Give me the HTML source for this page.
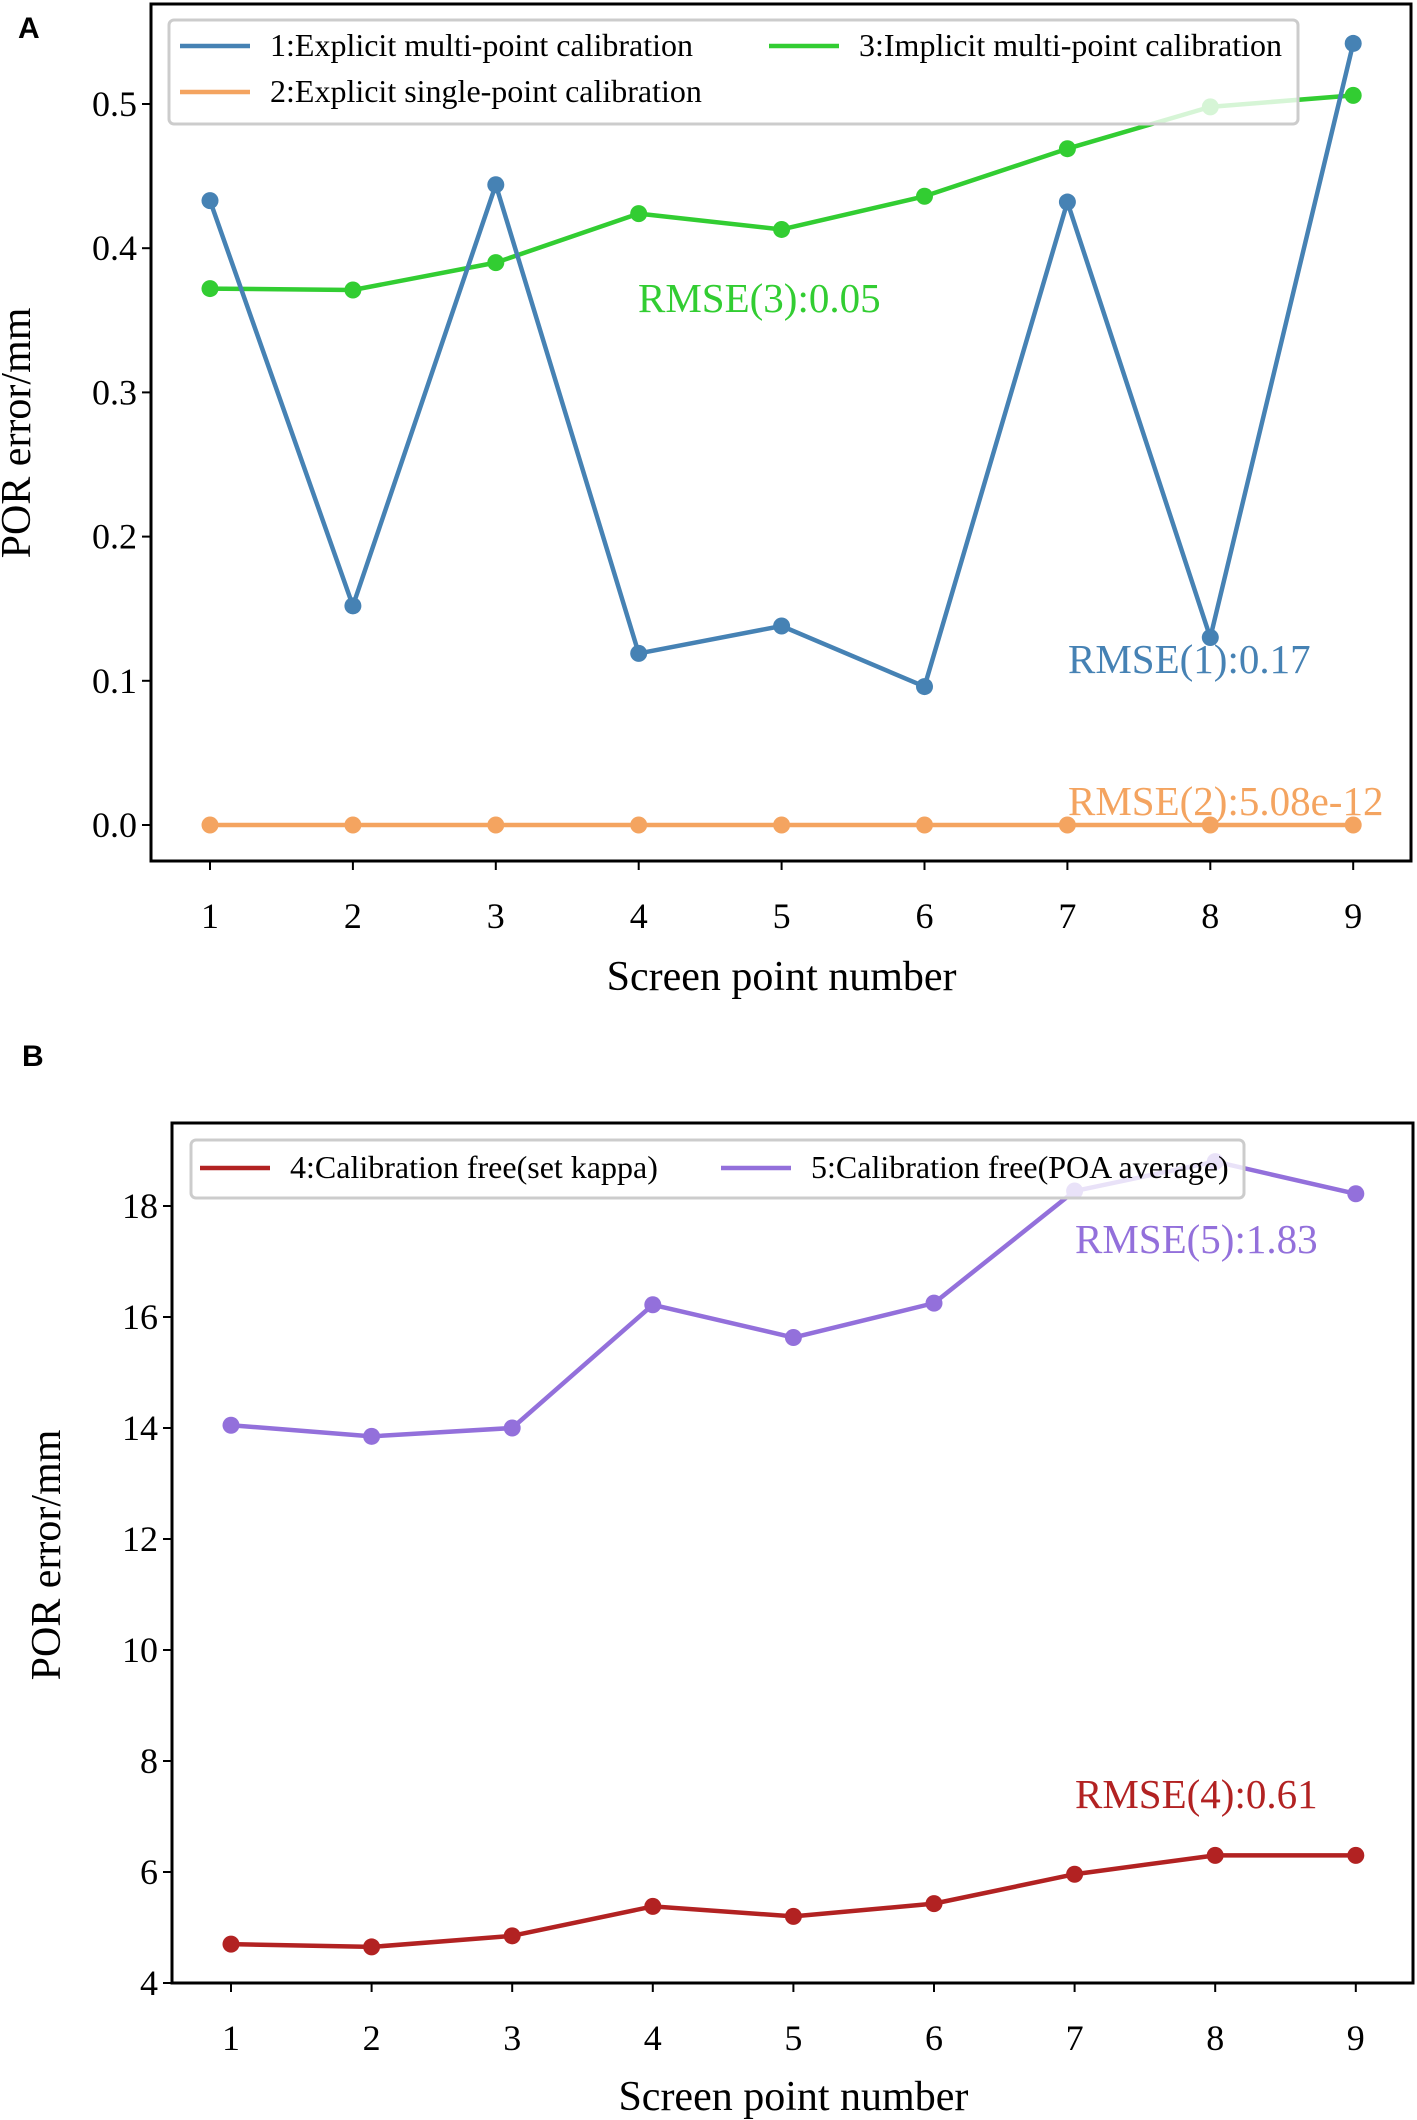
<!DOCTYPE html>
<html><head><meta charset="utf-8"><style>
html,body{margin:0;padding:0;background:#fff}
svg{display:block}
text{font-family:"Liberation Serif",serif}
</style></head><body>
<svg id="fig" width="1417" height="2120" viewBox="0 0 1417 2120" xmlns="http://www.w3.org/2000/svg"></svg>
<script>
const categories=[1,2,3,4,5,6,7,8,9];
const s1=[0.433,0.152,0.444,0.119,0.138,0.096,0.432,0.130,0.542];
const s2=[0,0,0,0,0,0,0,0,0];
const s3=[0.372,0.371,0.390,0.424,0.413,0.436,0.469,0.498,0.506];
const s4=[4.70,4.65,4.85,5.38,5.20,5.43,5.96,6.30,6.30];
const s5=[14.05,13.85,14.00,16.22,15.63,16.25,18.27,18.80,18.22];
const yTicksA=[0.0,0.1,0.2,0.3,0.4,0.5];
const yTicksB=[4,6,8,10,12,14,16,18];
const NS="http://www.w3.org/2000/svg";
const svg=document.getElementById('fig');
function mk(tag,attrs,parent,txt){const e=document.createElementNS(NS,tag);for(const k in attrs)e.setAttribute(k,attrs[k]);if(txt!==undefined)e.textContent=txt;(parent||svg).appendChild(e);return e;}

function panel(cfg){
  const g=mk('g',{});
  
  
  const X=v=>cfg.x0+(v-1)*cfg.xs;
  const Y=v=>cfg.y0-(v-cfg.yb)*cfg.ys;
  cfg.yt.forEach(t=>{
    const l=mk('line',{x1:cfg.L-9,x2:cfg.L,y1:Y(t),y2:Y(t),stroke:'#000','stroke-width':2},g);
    
    
    const tx=mk('text',{x:cfg.L-14,y:Y(t)+12,'text-anchor':'end','font-size':36},g,cfg.fmt(t));
    
    
  });
  categories.forEach(c=>{
    const l=mk('line',{x1:X(c),x2:X(c),y1:cfg.B,y2:cfg.B+9,stroke:'#000','stroke-width':2},g);
    
    
    const tx=mk('text',{x:X(c),y:cfg.xly,'text-anchor':'middle','font-size':36},g,String(c));
    
    
  });
  cfg.series.forEach(s=>{
    const sg=mk('g',{},g);
    
    
    mk('polyline',{points:s.data.map((v,i)=>X(categories[i])+','+Y(v)).join(' '),fill:'none',stroke:s.color,'stroke-width':4.5,'stroke-linejoin':'round'},sg);
    s.data.forEach((v,i)=>{
      const c=mk('circle',{cx:X(categories[i]),cy:Y(v),r:8.5,fill:s.color},sg);
      
      
    });
  });
  cfg.ann.forEach(a=>{
    const t=mk('text',{x:a.x,y:a.y,'font-size':41,fill:a.color},g,a.t);
    
    
  });
  const lg=mk('g',{},g);
  
  
  mk('rect',{x:cfg.leg.x,y:cfg.leg.y,width:cfg.leg.w,height:cfg.leg.h,rx:5,fill:'#fff','fill-opacity':0.8,stroke:'#ccc','stroke-width':3},lg);
  cfg.leg.items.forEach(it=>{
    const e=mk('g',{},lg);
    
    
    mk('line',{x1:it.lx,x2:it.lx+70,y1:it.y,y2:it.y,stroke:it.color,'stroke-width':4.5},e);
    mk('text',{x:it.lx+90,y:it.y+10,'font-size':32},e,it.t);
  });
  const f=mk('rect',{x:cfg.L,y:cfg.T,width:cfg.R-cfg.L,height:cfg.B-cfg.T,fill:'none',stroke:'#000','stroke-width':3},g);
  
  
  const xl=mk('text',{x:(cfg.x0+X(9))/2,y:cfg.xlabY,'text-anchor':'middle','font-size':42},g,'Screen point number');
  
  
  const yl=mk('text',{x:0,y:0,'text-anchor':'middle','font-size':42,transform:`translate(${cfg.ylx},${cfg.yly}) rotate(-90)`},g,'POR error/mm');
  
  
  const pl=mk('text',{x:cfg.pl[0],y:cfg.pl[1],'font-size':30,'font-weight':'bold',style:'font-family:"Liberation Sans",sans-serif'},g,cfg.plt);
  
  
}

panel({name:'panel-a',L:151,R:1411,T:4,B:861,x0:210,xs:142.9,y0:825,yb:0,ys:1442,yt:yTicksA,fmt:t=>t.toFixed(1),xly:928,xlabY:990,ylx:30,yly:433,
  series:[{name:'series-2-explicit-single',data:s2,color:'#f4a460'},{name:'series-3-implicit-multi',data:s3,color:'#32cd32'},{name:'series-1-explicit-multi',data:s1,color:'#4682b4'}],
  ann:[{x:638,y:312,t:'RMSE(3):0.05',color:'#32cd32'},{x:1068,y:673,t:'RMSE(1):0.17',color:'#4682b4'},{x:1068,y:815,t:'RMSE(2):5.08e-12',color:'#f4a460'}],
  leg:{x:169,y:20,w:1129,h:104,items:[{lx:180,y:46,color:'#4682b4',t:'1:Explicit multi-point calibration'},{lx:180,y:92,color:'#f4a460',t:'2:Explicit single-point calibration'},{lx:769,y:46,color:'#32cd32',t:'3:Implicit multi-point calibration'}]},
  pl:[18,38],plt:'A'});

panel({name:'panel-b',L:172,R:1413,T:1123,B:1983,x0:231,xs:140.6,y0:1983,yb:4,ys:55.5,yt:yTicksB,fmt:t=>String(t),xly:2050,xlabY:2110,ylx:60,yly:1555,
  series:[{name:'series-4-calibration-free-kappa',data:s4,color:'#b22222'},{name:'series-5-calibration-free-poa',data:s5,color:'#9370db'}],
  ann:[{x:1075,y:1253,t:'RMSE(5):1.83',color:'#9370db'},{x:1075,y:1808,t:'RMSE(4):0.61',color:'#b22222'}],
  leg:{x:191,y:1140,w:1053,h:58,items:[{lx:200,y:1168,color:'#b22222',t:'4:Calibration free(set kappa)'},{lx:721,y:1168,color:'#9370db',t:'5:Calibration free(POA average)'}]},
  pl:[22,1066],plt:'B'});
</script>
</body></html>
